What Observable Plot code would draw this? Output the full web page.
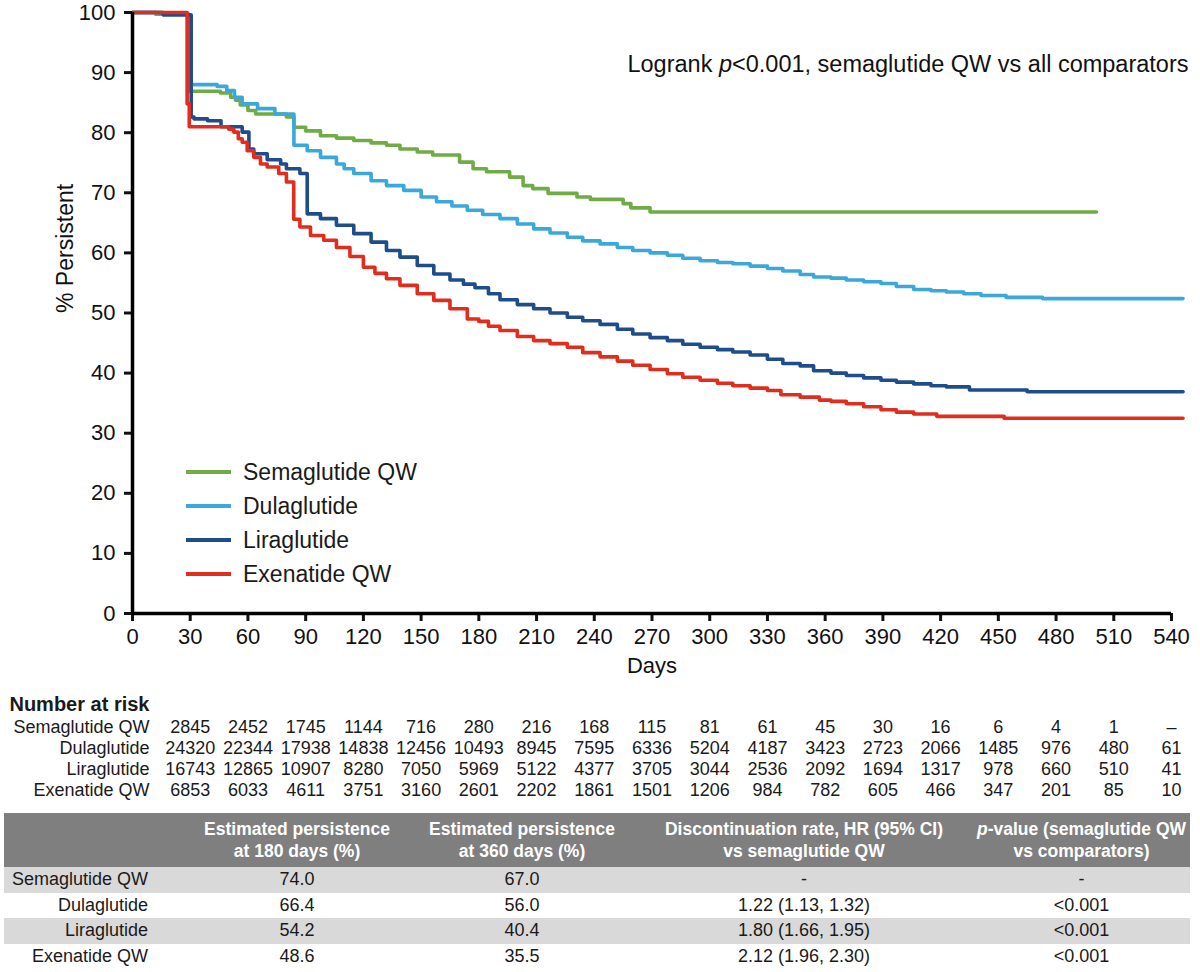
<!DOCTYPE html>
<html>
<head>
<meta charset="utf-8">
<script src="https://cdn.jsdelivr.net/npm/d3@7"></script>
<script src="https://cdn.jsdelivr.net/npm/@observablehq/plot@0.6"></script>
<style>
  body { margin: 0; background: #fff; font-family: "Liberation Sans", Arial, sans-serif; color: #1a1a1a; }
  #wrap { position: relative; width: 1200px; height: 972px; overflow: hidden; }
  #wrap svg { display: block; }
  #legend { position: absolute; left: 186px; top: 455px; font-size: 23px; }
  #legend .row { height: 34px; line-height: 34px; display: flex; align-items: center; white-space: nowrap; }
  #legend .sw { width: 45px; height: 4px; margin-right: 12px; }
  #summary { position: absolute; left: 4px; top: 813px; width: 1186px; border-collapse: collapse; table-layout: fixed; font-size: 18px; color: #1a1a1a; }
  #summary th { background: #7f7f7f; color: #fff; font-weight: bold; font-size: 17.5px; line-height: 22px; height: 54px; padding: 0; text-align: center; white-space: nowrap; }
  #summary td { height: 25.5px; padding: 0; text-align: center; line-height: 25px; white-space: nowrap; }
  #summary td.lab { text-align: right; padding-right: 37px; }
  #summary tr.shade td { background: #d9d9d9; }
</style>
</head>
<body>
<div id="wrap"></div>
<script>
// ---------- data ----------
const drugs = ["Semaglutide QW", "Dulaglutide", "Liraglutide", "Exenatide QW"];
const colors = ["#6fac46", "#3ba8dc", "#1e4d8c", "#e02d1d"];
const xTicks = [0, 30, 60, 90, 120, 150, 180, 210, 240, 270, 300, 330, 360, 390, 420, 450, 480, 510, 540];
const yTicks = [0, 10, 20, 30, 40, 50, 60, 70, 80, 90, 100];

// Kaplan–Meier steps: [day, % persistent]
const semaglutideCurve = [[0,100],[12,99.7],[29.3,86.9],[45.7,86.6],[51,85.9],[53.5,85.4],[56,84.6],[60,83.7],[64,83.1],[80,82.6],[83.9,80.9],[90,80.3],[97.7,79.5],[106,79.1],[115,78.7],[124,78.3],[132,77.9],[139,77.3],[148,76.8],[156,76.3],[170,75.1],[177,74.0],[184,73.5],[196,72.6],[203,71.2],[208,70.7],[216,69.9],[231,69.3],[238,68.9],[255,68.2],[259,67.5],[269,66.8],[501,66.8]];
const dulaglutideCurve = [[0,100],[15,99.7],[29.3,88.0],[44,87.7],[49,87.0],[53,85.9],[57,84.8],[65,84.0],[74,83.1],[83.9,77.9],[90.8,77.0],[97.7,75.9],[106,74.8],[110,74.0],[115,73.2],[124,72.0],[132,71.2],[141,70.4],[150,69.3],[158,68.5],[166,67.8],[174,67.1],[182,66.4],[191,65.7],[200,64.8],[208.5,64.0],[217,63.3],[226,62.6],[234,62.0],[243,61.5],[252,60.9],[260,60.4],[269,60.0],[278,59.6],[286,59.1],[295,58.7],[304,58.4],[312,58.2],[321,57.8],[330,57.4],[338,57.0],[347,56.4],[354,56.0],[363,55.8],[371,55.5],[380,55.2],[389,54.9],[397,54.4],[406,53.9],[415,53.7],[423,53.5],[432,53.2],[441,52.9],[454,52.6],[473,52.4],[546,52.4]];
const liraglutideCurve = [[0,100],[16,99.6],[30.5,82.6],[32,82.3],[39,82.0],[46,81.0],[57,80.1],[60.5,77.3],[63,76.5],[70,75.5],[77,74.8],[80,74.0],[87,73.2],[90.8,66.5],[97.7,65.7],[106,64.6],[115,63.2],[124,61.8],[132,60.4],[139,59.3],[148,57.9],[156.6,56.5],[165,55.5],[172,54.8],[178,54.2],[185,53.2],[191,52.2],[200,51.4],[208.5,50.7],[217,50.0],[226,49.3],[234,48.7],[243,48.1],[252,47.3],[260,46.5],[269,45.9],[278,45.4],[286,44.8],[295,44.3],[304,43.9],[312,43.5],[321,43.0],[330,42.3],[338,41.6],[347,41.2],[354,40.4],[363,40.0],[371,39.6],[380,39.2],[389,38.8],[397,38.5],[406,38.2],[415,37.9],[423,37.7],[435,37.2],[465,36.9],[546,36.9]];
const exenatideCurve = [[0,100],[28.4,84.8],[29.5,81.0],[50,80.6],[52.6,80.1],[55,79.0],[57,78.4],[59.6,77.0],[63,75.9],[66.5,74.8],[70,74.3],[76,73.2],[80,71.8],[83.8,65.6],[87,64.3],[92.5,62.9],[99.4,62.1],[106,60.9],[113,59.4],[120,57.6],[126,56.6],[132,55.7],[139,54.6],[148,53.2],[156.6,52.1],[165,50.7],[174,49.0],[180,48.6],[185,47.8],[191,47.1],[200,46.1],[208.5,45.4],[217,44.9],[226,44.3],[234,43.4],[243,42.7],[252,42.0],[260,41.3],[269,40.6],[278,39.9],[286,39.3],[295,38.8],[304,38.3],[312,37.9],[321,37.5],[330,37.1],[337,36.4],[347,36.0],[357,35.5],[363,35.3],[371,34.9],[380,34.4],[389,33.9],[397,33.5],[406,33.2],[418,32.8],[453,32.5],[546,32.5]];

// Number at risk
const riskSemaglutide = ["2845","2452","1745","1144","716","280","216","168","115","81","61","45","30","16","6","4","1","–"];
const riskDulaglutide = ["24320","22344","17938","14838","12456","10493","8945","7595","6336","5204","4187","3423","2723","2066","1485","976","480","61"];
const riskLiraglutide = ["16743","12865","10907","8280","7050","5969","5122","4377","3705","3044","2536","2092","1694","1317","978","660","510","41"];
const riskExenatide = ["6853","6033","4611","3751","3160","2601","2202","1861","1501","1206","984","782","605","466","347","201","85","10"];

// Summary table
const tableHeaders = ["", "Estimated persistence<br>at 180 days (%)", "Estimated persistence<br>at 360 days (%)", "Discontinuation rate, HR (95% CI)<br>vs semaglutide QW", "<i>p</i>-value (semaglutide QW<br>vs comparators)"];
const est180 = ["74.0", "66.4", "54.2", "48.6"];
const est360 = ["67.0", "56.0", "40.4", "35.5"];
const hazardRatio = ["-", "1.22 (1.13, 1.32)", "1.80 (1.66, 1.95)", "2.12 (1.96, 2.30)"];
const pValue = ["-", "<0.001", "<0.001", "<0.001"];

const annotationParts = ["Logrank ", "p", "<0.001, semaglutide QW vs all comparators"];
const xLabel = "Days";
const yLabel = "% Persistent";
const riskTitle = "Number at risk";

// ---------- build ----------
const wrap = document.getElementById("wrap");
const font = "Liberation Sans, Arial, sans-serif";
const curves = [semaglutideCurve, dulaglutideCurve, liraglutideCurve, exenatideCurve];
const curveRows = [];
curves.forEach((c, k) => c.forEach(([day, pct]) => curveRows.push({drug: drugs[k], day, pct})));
const annotationText = annotationParts.join("");

const main = Plot.plot({
  width: 1200, height: 690,
  marginTop: 12, marginBottom: 77, marginLeft: 132, marginRight: 29,
  style: {fontFamily: font, fontSize: "22px", color: "#111", background: "#fff"},
  x: {domain: [0, 540]},
  y: {domain: [0, 100]},
  color: {domain: drugs, range: colors},
  marks: [
    Plot.line(curveRows, {x: "day", y: "pct", z: "drug", stroke: "drug", curve: "step-after", strokeWidth: 3.6}),
    Plot.axisX({ticks: xTicks, tickSize: 8, tickPadding: 7, strokeWidth: 3, fontSize: 22, label: null, tickFormat: d => String(d)}),
    Plot.axisY({ticks: yTicks, tickSize: 8, tickPadding: 9, strokeWidth: 3, fontSize: 22, label: null, tickFormat: d => String(d)}),
    Plot.ruleX([0], {strokeWidth: 3.5, stroke: "#000"}),
    Plot.ruleY([0], {strokeWidth: 3.5, stroke: "#000"}),
    Plot.text([xLabel], {frameAnchor: "bottom", dy: 59, fontSize: 22}),
    Plot.text([yLabel], {frameAnchor: "left", rotate: -90, dx: -67, fontSize: 23}),
    Plot.text([annotationText], {frameAnchor: "top-right", textAnchor: "end", dx: 17, dy: 43, fontSize: 23.5})
  ]
});
wrap.appendChild(main);
d3.select(main).selectAll("text").filter(function() { return this.textContent === annotationText; })
  .each(function() {
    const t = d3.select(this);
    t.text(null);
    annotationParts.forEach((p, i) => {
      const s = t.append("tspan").text(p);
      if (i === 1) s.attr("font-style", "italic");
    });
  });

// Number at risk
const riskLists = [riskSemaglutide, riskDulaglutide, riskLiraglutide, riskExenatide];
const riskRows = [];
riskLists.forEach((list, k) => list.forEach((n, col) => riskRows.push({drug: drugs[k], col, n})));
const risk = Plot.plot({
  width: 1200, height: 115,
  marginTop: 36, marginBottom: 14, marginLeft: 132, marginRight: 29,
  style: {fontFamily: font, fontSize: "18px", color: "#1a1a1a", background: "#fff"},
  x: {domain: [0, 540], axis: null},
  y: {type: "point", domain: drugs, padding: 0, axis: null},
  marks: [
    Plot.text(riskRows, {x: d => xTicks[d.col + 1], y: "drug", text: "n", fontSize: 18}),
    Plot.text(drugs, {x: () => xTicks[0], y: d => d, dx: 17, textAnchor: "end", fontSize: 18}),
    Plot.text([riskTitle], {frameAnchor: "top-left", dx: 17, dy: -30, textAnchor: "end", fontSize: 20, fontWeight: "bold"})
  ]
});
wrap.appendChild(risk);

// Legend
const legend = d3.select(wrap).append("div").attr("id", "legend");
drugs.forEach((d, k) => {
  const row = legend.append("div").attr("class", "row");
  row.append("span").attr("class", "sw").style("background", colors[k]);
  row.append("span").text(d);
});

// Summary table
const table = d3.select(wrap).append("table").attr("id", "summary");
const widths = [181, 224, 226, 338, 217];
const colgroup = table.append("colgroup");
widths.forEach(w => colgroup.append("col").style("width", w + "px"));
const hr = table.append("tr");
tableHeaders.forEach(h => hr.append("th").html(h));
drugs.forEach((d, k) => {
  const tr = table.append("tr").attr("class", k % 2 === 0 ? "shade" : "");
  tr.append("td").attr("class", "lab").text(d);
  [est180[k], est360[k], hazardRatio[k], pValue[k]].forEach(v => tr.append("td").text(v));
});
</script>
</body>
</html>
